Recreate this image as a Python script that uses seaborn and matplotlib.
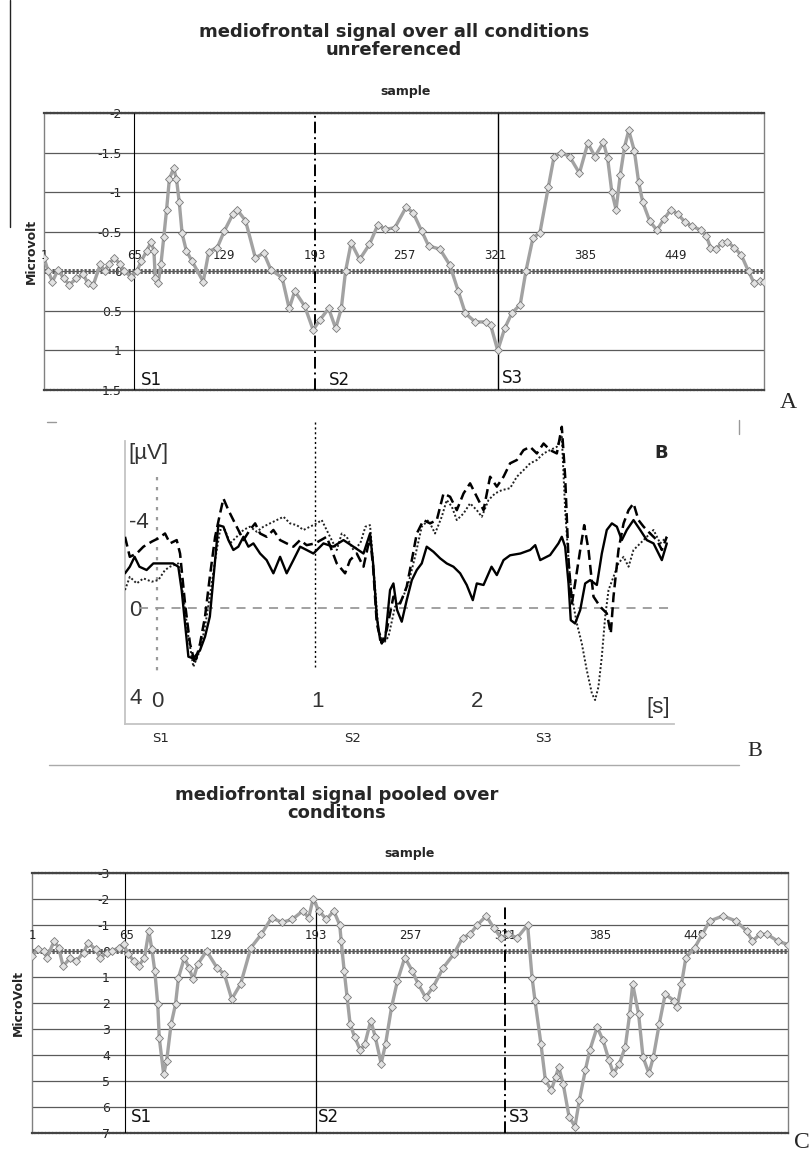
import matplotlib
matplotlib.use("Agg")
import matplotlib.pyplot as plt
from matplotlib.lines import Line2D
import seaborn as sns
import pandas as pd

# ---- panel A: mediofrontal signal, unreferenced (sample, microvolt)
a_sample = [1, 4, 7, 11, 15, 19, 24, 29, 32, 36, 41, 44, 47, 51, 55, 58, 63, 67, 70, 74,
            77, 79, 80, 82, 84, 86, 88, 90, 93, 95, 97, 99, 102, 106, 114, 118, 124, 129,
            135, 138, 144, 151, 157, 162, 170, 175, 179, 186, 192, 197, 203, 208, 212, 215,
            219, 225, 232, 238, 243, 250, 258, 263, 269, 274, 282, 289, 295, 300, 307, 315,
            318, 323, 328, 333, 339, 343, 348, 353, 359, 363, 368, 374, 381, 387, 392, 398,
            401, 404, 407, 410, 413, 416, 420, 423, 426, 431, 436, 441, 446, 451, 456, 461,
            467, 471, 474, 478, 482, 486, 491, 496, 501, 505, 509, 512]
a_value = [-0.17, 0.0, 0.13, -0.02, 0.09, 0.17, 0.09, 0.04, 0.15, 0.17, -0.09, 0.0, -0.09,
           -0.17, -0.09, 0.0, 0.07, 0.0, -0.13, -0.26, -0.37, -0.26, 0.09, 0.15, -0.09, -0.43,
           -0.78, -1.17, -1.3, -1.17, -0.87, -0.48, -0.26, -0.13, 0.13, -0.25, -0.3, -0.51,
           -0.72, -0.78, -0.64, -0.17, -0.23, -0.02, 0.08, 0.47, 0.25, 0.44, 0.74, 0.61, 0.47,
           0.72, 0.47, 0.0, -0.36, -0.15, -0.34, -0.59, -0.53, -0.55, -0.81, -0.74, -0.51,
           -0.32, -0.28, -0.08, 0.25, 0.53, 0.64, 0.64, 0.68, 1.0, 0.72, 0.53, 0.42, 0.0,
           -0.42, -0.49, -1.07, -1.45, -1.5, -1.45, -1.24, -1.62, -1.45, -1.63, -1.43, -1.0,
           -0.78, -1.22, -1.57, -1.78, -1.52, -1.13, -0.87, -0.63, -0.52, -0.66, -0.78, -0.72,
           -0.62, -0.57, -0.52, -0.45, -0.3, -0.28, -0.36, -0.37, -0.3, -0.2, 0.0, 0.15, 0.12,
           0.13]

# ---- panel C: mediofrontal signal pooled over conditions
c_sample = [1, 5, 9, 11, 16, 19, 22, 27, 31, 36, 39, 44, 47, 52, 55, 60, 63, 66, 70, 73, 77,
            80, 82, 84, 86, 87, 90, 92, 95, 98, 100, 104, 107, 110, 113, 119, 126, 131, 136,
            142, 149, 156, 163, 170, 177, 184, 188, 191, 195, 200, 205, 209, 210, 212, 214,
            216, 219, 223, 226, 230, 233, 237, 240, 244, 248, 253, 258, 262, 267, 272, 279,
            286, 292, 297, 302, 308, 313, 318, 323, 329, 336, 339, 341, 345, 348, 352, 355,
            357, 360, 364, 368, 371, 375, 378, 383, 387, 391, 394, 398, 402, 405, 407, 411,
            414, 418, 421, 425, 429, 435, 437, 440, 443, 449, 454, 459, 468, 477, 484, 488,
            493, 498, 505, 512]
c_value = [0.19, -0.06, 0.0, 0.26, -0.38, -0.13, 0.58, 0.26, 0.38, 0.06, -0.32, -0.06, 0.26,
           0.06, 0.0, -0.13, -0.26, 0.13, 0.38, 0.58, 0.26, -0.77, -0.06, 0.77, 2.05, 3.33,
           4.74, 4.23, 2.82, 2.05, 1.03, 0.26, 0.64, 1.09, 0.51, 0.0, 0.64, 0.89, 1.85, 1.27,
           -0.13, -0.64, -1.28, -1.1, -1.22, -1.54, -1.28, -2.0, -1.54, -1.22, -1.54, -1.0,
           -0.38, 0.76, 1.78, 2.8, 3.3, 3.82, 3.57, 2.68, 3.3, 4.33, 3.57, 2.17, 1.15, 0.25,
           0.76, 1.27, 1.78, 1.4, 0.64, 0.13, -0.51, -0.64, -1.0, -1.35, -0.9, -0.51, -0.64,
           -0.51, -1.0, 1.02, 1.91, 3.57, 4.97, 5.35, 4.84, 4.46, 5.1, 6.37, 6.75, 5.73, 4.59,
           3.82, 2.93, 3.44, 4.2, 4.71, 4.33, 3.69, 2.42, 1.27, 2.42, 4.08, 4.71, 4.08, 2.8,
           1.66, 1.91, 2.17, 1.27, 0.25, -0.13, -0.64, -1.15, -1.35, -1.15, -0.77, -0.38,
           -0.64, -0.64, -0.38, -0.25]

sample_ticks = [1, 65, 129, 193, 257, 321, 385, 449]

# ---- panel B: three condition averages (time in s, microvolt)
b_solid_t = [-0.2, -0.17, -0.14, -0.11, -0.065, -0.023, 0.019, 0.06, 0.10, 0.133, 0.154, 0.175,
             0.196, 0.227, 0.269, 0.30, 0.33, 0.363, 0.383, 0.415, 0.446, 0.477, 0.508, 0.54,
             0.571, 0.602, 0.644, 0.685, 0.727, 0.769, 0.81, 0.852, 0.894, 0.935, 0.977, 1.04,
             1.10, 1.165, 1.227, 1.29, 1.331, 1.35, 1.373, 1.394, 1.425, 1.456, 1.477, 1.50,
             1.529, 1.56, 1.592, 1.623, 1.654, 1.685, 1.727, 1.769, 1.81, 1.852, 1.894, 1.935,
             1.973, 1.998, 2.04, 2.09, 2.123, 2.165, 2.206, 2.27, 2.331, 2.363, 2.394, 2.456,
             2.508, 2.529, 2.55, 2.571, 2.585, 2.612, 2.644, 2.675, 2.706, 2.748, 2.779, 2.81,
             2.842, 2.873, 2.904, 2.935, 2.977, 3.019, 3.06, 3.102, 3.154, 3.185]
b_solid_v = [-1.58, -1.88, -2.33, -1.88, -1.73, -2.03, -2.03, -2.03, -2.03, -1.88, -0.82, 0.70,
             2.21, 2.29, 1.91, 1.30, 0.39, -2.18, -3.77, -3.7, -3.09, -2.64, -2.79, -3.24,
             -2.79, -2.94, -2.48, -2.18, -1.58, -2.33, -1.58, -2.18, -2.79, -2.64, -2.48, -2.94,
             -2.79, -3.09, -2.79, -2.48, -3.39, -2.03, 0.39, 1.45, 1.45, -0.82, -1.12, 0.09,
             0.62, -0.36, -1.27, -1.73, -2.03, -2.79, -2.56, -2.26, -2.03, -1.88, -1.58, -1.05,
             -0.36, -1.12, -1.05, -1.88, -1.5, -2.18, -2.4, -2.48, -2.64, -2.86, -2.18, -2.41,
             -2.94, -3.24, -2.79, -1.12, 0.55, 0.70, 0.09, -1.12, -1.27, -1.05, -2.48, -3.55,
             -3.85, -3.7, -3.09, -3.55, -4.0, -3.55, -3.09, -2.94, -2.18, -2.94]

b_dashed_t = [-0.2, -0.17, -0.127, -0.085, -0.033, 0.008, 0.05, 0.081, 0.123, 0.144, 0.175,
              0.206, 0.237, 0.269, 0.30, 0.33, 0.363, 0.394, 0.415, 0.446, 0.477, 0.508, 0.54,
              0.58, 0.613, 0.644, 0.685, 0.727, 0.769, 0.81, 0.852, 0.894, 0.935, 0.988, 1.06,
              1.123, 1.175, 1.206, 1.248, 1.29, 1.331, 1.35, 1.373, 1.404, 1.435, 1.477, 1.519,
              1.56, 1.592, 1.623, 1.665, 1.706, 1.748, 1.79, 1.831, 1.873, 1.915, 1.956, 1.998,
              2.04, 2.081, 2.123, 2.165, 2.206, 2.248, 2.29, 2.331, 2.373, 2.415, 2.456, 2.498,
              2.529, 2.55, 2.571, 2.592, 2.612, 2.644, 2.669, 2.696, 2.727, 2.769, 2.81, 2.835,
              2.852, 2.883, 2.915, 2.946, 2.977, 3.008, 3.04, 3.081, 3.123, 3.154, 3.185]
b_dashed_v = [-3.24, -2.33, -2.48, -2.79, -3.02, -3.17, -3.39, -2.94, -3.09, -2.48, -0.21, 1.61,
              2.52, 1.61, 0.39, -1.42, -3.24, -4.3, -4.98, -4.45, -4.0, -3.55, -3.09, -3.55,
              -3.85, -3.39, -3.24, -3.55, -3.09, -2.94, -2.79, -3.09, -2.86, -2.94, -3.24,
              -2.03, -1.58, -2.18, -2.48, -1.88, -3.24, -1.88, 0.7, 1.61, 1.0, -0.52, -0.21,
              -0.97, -2.18, -3.39, -4.0, -3.85, -4.0, -5.21, -5.06, -4.45, -5.21, -5.67, -5.06,
              -4.45, -5.97, -5.52, -5.97, -6.58, -6.73, -7.18, -7.33, -7.03, -7.48, -7.18,
              -7.03, -8.24, -5.97, -2.18, -0.21, -1.12, -2.64, -3.77, -2.64, -0.52, -0.06, 0.24,
              1.15, -0.52, -2.64, -3.85, -4.45, -4.76, -4.0, -3.7, -3.39, -3.09, -2.64, -3.24]

b_dotted_t = [-0.2, -0.17, -0.127, -0.085, -0.033, 0.008, 0.05, 0.081, 0.133, 0.165, 0.196,
              0.227, 0.269, 0.30, 0.33, 0.363, 0.394, 0.425, 0.456, 0.498, 0.54, 0.58, 0.623,
              0.665, 0.706, 0.748, 0.79, 0.831, 0.873, 0.915, 0.956, 0.998, 1.029, 1.081, 1.123,
              1.154, 1.185, 1.227, 1.27, 1.302, 1.331, 1.352, 1.383, 1.415, 1.446, 1.487, 1.529,
              1.571, 1.612, 1.654, 1.696, 1.737, 1.779, 1.81, 1.842, 1.873, 1.915, 1.956, 1.998,
              2.029, 2.071, 2.112, 2.154, 2.206, 2.248, 2.29, 2.331, 2.373, 2.415, 2.456, 2.498,
              2.529, 2.55, 2.571, 2.592, 2.623, 2.654, 2.685, 2.717, 2.737, 2.758, 2.779, 2.8,
              2.821, 2.852, 2.883, 2.915, 2.946, 2.977, 3.019, 3.06, 3.102, 3.144, 3.185]
b_dotted_v = [-0.82, -1.42, -1.12, -1.35, -1.2, -1.27, -1.73, -1.88, -2.03, -0.52, 1.3, 2.67,
              1.91, 0.85, -0.52, -2.18, -3.55, -3.55, -2.94, -3.24, -3.55, -3.7, -3.47, -3.7,
              -3.85, -4.0, -4.15, -3.85, -3.77, -3.55, -3.7, -3.85, -4.0, -3.24, -2.64, -3.39,
              -3.24, -2.64, -2.94, -3.7, -3.77, -1.88, 1.0, 1.61, 1.3, -0.06, -0.36, -1.12,
              -2.33, -3.7, -4.0, -3.39, -4.15, -4.91, -4.61, -4.0, -4.3, -4.76, -4.45, -4.15,
              -4.91, -5.21, -5.36, -5.45, -5.97, -6.27, -6.58, -6.73, -7.03, -7.18, -7.33, -7.79,
              -4.45, -2.18, -0.52, 0.7, 1.61, 2.82, 3.88, 4.18, 3.58, 2.21, 0.39, -0.82, -1.42,
              -2.03, -2.33, -1.88, -2.64, -2.94, -3.24, -3.55, -2.94, -3.24]

W, H = 809, 1154


def frac(x, y):
    return x / W, 1 - y / H


def box(left, top, right, bottom):
    return [left / W, 1 - bottom / H, (right - left) / W, (bottom - top) / H]


def excel_panel(ax, samples, values, ylim, yticks, markers, s_labels, ylabel):
    sns.lineplot(x=samples, y=values, ax=ax, estimator=None, sort=False,
                 color="#a2a2a2", lw=2.4, marker="D", markersize=3.8,
                 markerfacecolor="#e2e2e2", markeredgecolor="#7a7a7a",
                 markeredgewidth=0.6, zorder=4)
    ax.set_xlim(1, 512)
    ax.set_ylim(ylim)
    for y in yticks:
        ax.axhline(y, color="#5a5a5a", lw=0.9, zorder=1)
    ax.axhline(0, color="#5e5e5e", lw=3.6, ls=(0, (0.45, 0.35)), zorder=2)
    for s, lo, hi, ls, lw in markers:
        ax.vlines(s, lo, hi, colors="black", linestyles=ls, lw=lw, zorder=3)
    for txt, s, v in s_labels:
        ax.text(s, v, txt, fontsize=12, ha="left", va="center", color="#111")
    for s in sample_ticks:
        ax.annotate(str(s), (s, 0), xytext=(0, 11.5), textcoords="offset points",
                    ha="center", va="center", fontsize=8.5, color="#222")
    ax.set_xticks([])
    ax.set_yticks(yticks)
    ax.set_yticklabels([f"{t:g}" for t in yticks])
    ax.tick_params(axis="y", length=0, pad=-56, labelsize=9, labelcolor="#222")
    ax.set_xlabel("")
    ax.set_ylabel(ylabel, fontsize=9, fontweight="bold")
    for side in ("top", "bottom"):
        ax.spines[side].set_color("#444")
        ax.spines[side].set_linewidth(1.6)
        ax.spines[side].set_linestyle((0, (1, 0.6)))
    for side in ("left", "right"):
        ax.spines[side].set_color("#808080")
        ax.spines[side].set_linewidth(1.0)


sns.set_style("white")
plt.rcParams["font.family"] = ["DejaVu Sans"]
plt.rcParams["axes.unicode_minus"] = False

fig = plt.figure(figsize=(W / 100, H / 100), dpi=100)

# ---------------- A
axA = fig.add_axes(box(44, 113, 764, 390))
excel_panel(axA, a_sample, a_value, (1.5, -2),
            [-2, -1.5, -1, -0.5, 0, 0.5, 1, 1.5],
            [(65, 1.5, -2, "solid", 0.8), (193, 1.5, -2, (0, (6, 2, 1, 2)), 1.4),
             (323, 1.5, -2, "solid", 1.0)],
            [("S1", 70, 1.37), ("S2", 203, 1.37), ("S3", 326, 1.35)],
            "Microvolt")
axA.yaxis.set_label_coords(-0.009, 0.5)
fig.text(*frac(394, 41), "mediofrontal signal over all conditions\nunreferenced",
         ha="center", va="center", fontsize=13, fontweight="bold", linespacing=1.05)
fig.text(*frac(406, 92), "sample", ha="center", va="center", fontsize=9, fontweight="bold")
fig.text(*frac(788, 403), "A", ha="center", va="center", fontsize=17,
         family=["Liberation Serif", "DejaVu Serif"])

# ---------------- B
axB = fig.add_axes(box(125, 418, 674, 724))
bdf = pd.DataFrame({"t": b_solid_t, "uv": b_solid_v})
sns.lineplot(data=bdf, x="t", y="uv", ax=axB, estimator=None, sort=False,
             color="black", lw=1.7, zorder=5)
bdf = pd.DataFrame({"t": b_dashed_t, "uv": b_dashed_v})
sns.lineplot(data=bdf, x="t", y="uv", ax=axB, estimator=None, sort=False,
             color="black", lw=1.8, ls=(0, (4, 2)), zorder=4)
bdf = pd.DataFrame({"t": b_dotted_t, "uv": b_dotted_v})
sns.lineplot(data=bdf, x="t", y="uv", ax=axB, estimator=None, sort=False,
             color="#222", lw=1.4, ls=(0, (1, 1.1)), zorder=3)
axB.set_xlim(-0.2, 3.23)
axB.set_ylim(5.27, -8.64)
axB.hlines(0, -0.11, 3.23, colors="#9a9a9a", linestyles=(0, (5, 4)), lw=1.3, zorder=1)
axB.vlines(0, -5.95, 2.95, colors="#9a9a9a", linestyles=(0, (1.5, 3)), lw=1.6, zorder=1)
axB.vlines(0.99, -8.45, 2.7, colors="black", linestyles=(0, (1.5, 2)), lw=1.0, zorder=1)
axB.set_xlabel("")
axB.set_ylabel("")
axB.set_xticks([0, 1, 2])
axB.set_xticks([i / 10 for i in range(-1, 32)], minor=True)
axB.set_yticks([-4, 0, 4])
axB.tick_params(axis="x", which="both", direction="in", length=3, color="#bbbbbb",
                pad=-24, labelsize=16, labelcolor="#333")
axB.tick_params(axis="y", length=0, pad=-3, labelsize=16, labelcolor="#333")
for lbl in axB.get_xticklabels() + axB.get_yticklabels():
    lbl.set_family(["Liberation Sans", "DejaVu Sans"])
for lbl in axB.get_yticklabels():
    lbl.set_ha("left")
for side in ("top", "right"):
    axB.spines[side].set_visible(False)
for side in ("left", "bottom"):
    axB.spines[side].set_color("#c4c4c4")
    axB.spines[side].set_linewidth(1.3)
axB.spines["left"].set_bounds(5.27, -7.6)
fig.text(*frac(128, 453), "[µV]", ha="left", va="center", fontsize=16, color="#333",
         family=["Liberation Sans", "DejaVu Sans"])
fig.text(*frac(658, 707), "[s]", ha="center", va="center", fontsize=16, color="#333",
         family=["Liberation Sans", "DejaVu Sans"])
fig.text(*frac(661, 453), "B", ha="center", va="center", fontsize=13, fontweight="bold")
for txt, x in (("S1", 161), ("S2", 353), ("S3", 544)):
    fig.text(*frac(x, 739), txt, ha="center", va="center", fontsize=9.5)
fig.text(*frac(755, 752), "B", ha="center", va="center", fontsize=16,
         family=["Liberation Serif", "DejaVu Serif"])
fig.add_artist(Line2D([49 / W, 739 / W], [1 - 765 / H] * 2, color="#aaaaaa", lw=1))
fig.add_artist(Line2D([739 / W] * 2, [1 - 420 / H, 1 - 434 / H], color="#999999", lw=1))
fig.add_artist(Line2D([47 / W, 56 / W], [1 - 422 / H] * 2, color="#999999", lw=1))
fig.add_artist(Line2D([10 / W] * 2, [1.0, 1 - 227 / H], color="#222222", lw=1))

# ---------------- C
axC = fig.add_axes(box(32, 873, 788, 1133))
excel_panel(axC, c_sample, c_value, (7, -3), list(range(-3, 8)),
            [(64, 7, -3, "solid", 0.8), (193, 7, -1.9, "solid", 0.9),
             (321, 7, -1.8, (0, (6, 2, 1, 2)), 1.4)],
            [("S1", 68, 6.4), ("S2", 194, 6.4), ("S3", 323, 6.4)],
            "MicroVolt")
axC.yaxis.set_label_coords(-0.009, 0.5)
fig.text(*frac(337, 804), "mediofrontal signal pooled over\nconditons",
         ha="center", va="center", fontsize=13, fontweight="bold", linespacing=1.05)
fig.text(*frac(410, 853), "sample", ha="center", va="center", fontsize=9, fontweight="bold")
fig.text(*frac(802, 1142), "C", ha="center", va="center", fontsize=17,
         family=["Liberation Serif", "DejaVu Serif"])

fig.savefig("out.png", dpi=100)
